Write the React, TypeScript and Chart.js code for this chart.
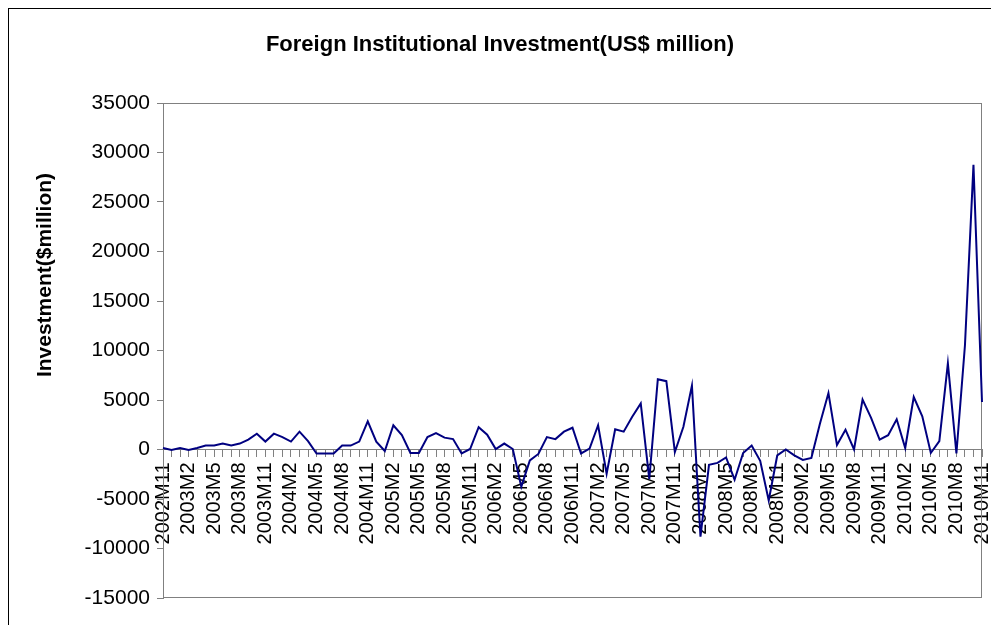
import React, { useEffect, useRef } from 'react';
import { Chart, registerables } from 'chart.js';

Chart.register(...registerables);

const categories = [
  '2002M11', '2002M12',
  '2003M1', '2003M2', '2003M3', '2003M4', '2003M5', '2003M6', '2003M7', '2003M8', '2003M9', '2003M10', '2003M11', '2003M12',
  '2004M1', '2004M2', '2004M3', '2004M4', '2004M5', '2004M6', '2004M7', '2004M8', '2004M9', '2004M10', '2004M11', '2004M12',
  '2005M1', '2005M2', '2005M3', '2005M4', '2005M5', '2005M6', '2005M7', '2005M8', '2005M9', '2005M10', '2005M11', '2005M12',
  '2006M1', '2006M2', '2006M3', '2006M4', '2006M5', '2006M6', '2006M7', '2006M8', '2006M9', '2006M10', '2006M11', '2006M12',
  '2007M1', '2007M2', '2007M3', '2007M4', '2007M5', '2007M6', '2007M7', '2007M8', '2007M9', '2007M10', '2007M11', '2007M12',
  '2008M1', '2008M2', '2008M3', '2008M4', '2008M5', '2008M6', '2008M7', '2008M8', '2008M9', '2008M10', '2008M11', '2008M12',
  '2009M1', '2009M2', '2009M3', '2009M4', '2009M5', '2009M6', '2009M7', '2009M8', '2009M9', '2009M10', '2009M11', '2009M12',
  '2010M1', '2010M2', '2010M3', '2010M4', '2010M5', '2010M6', '2010M7', '2010M8', '2010M9', '2010M10', '2010M11',
];

const values2002 = [150, -50];
const values2003 = [150, -50, 150, 400, 400, 600, 400, 600, 1000, 1600, 800, 1600];
const values2004 = [1250, 800, 1800, 850, -400, -400, -400, 400, 400, 800, 2850, 800];
const values2005 = [-150, 2450, 1450, -350, -350, 1250, 1650, 1200, 1050, -400, 50, 2250];
const values2006 = [1500, 50, 600, 50, -3750, -1100, -450, 1250, 1050, 1800, 2200, -400];
const values2007 = [100, 2450, -2450, 2050, 1800, 3300, 4650, -3000, 7100, 6900, -250, 2300];
const values2008 = [6450, -8800, -1550, -1350, -800, -3050, -350, 400, -1150, -5150, -600, 0];
const values2009 = [-600, -1050, -850, 2600, 5700, 450, 2000, 0, 5050, 3200, 1000, 1450];
const values2010 = [3050, 150, 5300, 3350, -350, 850, 8700, -400, 10500, 28750, 4800];

const fiiValues = [
  ...values2002, ...values2003, ...values2004, ...values2005, ...values2006,
  ...values2007, ...values2008, ...values2009, ...values2010,
];

const TITLE = 'Foreign Institutional Investment(US$ million)';
const Y_TITLE = 'Investment($million)';
const Y_MIN = -15000;
const Y_MAX = 35000;
const Y_STEP = 5000;
const LABEL_EVERY = 3;

const FONT = '"Liberation Sans", Arial, Helvetica, sans-serif';

export default function App() {
  const ref = useRef<HTMLCanvasElement>(null);

  useEffect(() => {
    const canvas = ref.current;
    if (!canvas) return;

    const decor = {
      id: 'decor',
      beforeDatasetsDraw(chart: any) {
        const { ctx, chartArea: a } = chart;
        ctx.save();
        ctx.strokeStyle = '#808080';
        ctx.lineWidth = 1;
        ctx.strokeRect(Math.round(a.left) + 0.5, Math.round(a.top) + 0.5,
          Math.round(a.right - a.left) - 1, Math.round(a.bottom - a.top) - 1);
        ctx.restore();
      },
      afterDraw(chart: any) {
        const { ctx } = chart;
        ctx.save();
        ctx.fillStyle = '#000';
        ctx.font = `bold 22px ${FONT}`;
        ctx.textAlign = 'center';
        ctx.textBaseline = 'middle';
        ctx.fillText(TITLE, 491, 36);
        ctx.translate(36, 266);
        ctx.rotate(-Math.PI / 2);
        ctx.font = `bold 21px ${FONT}`;
        ctx.fillText(Y_TITLE, 0, 0);
        ctx.restore();
      },
    };

    const chart = new Chart(canvas, {
      type: 'line',
      data: {
        labels: categories,
        datasets: [
          {
            data: fiiValues,
            borderColor: '#000080',
            backgroundColor: '#000080',
            borderWidth: 2,
            pointRadius: 0,
            tension: 0,
            fill: false,
          },
        ],
      },
      options: {
        animation: false,
        responsive: false,
        maintainAspectRatio: false,
        devicePixelRatio: 1,
        layout: { padding: { left: 0, top: 94, right: 9, bottom: 27 } },
        plugins: {
          legend: { display: false },
          title: { display: false },
          tooltip: { enabled: false },
        },
        scales: {
          x: {
            type: 'category',
            position: { y: 0 } as any,
            offset: false,
            grid: { drawOnChartArea: false, drawTicks: true, tickLength: 7, color: '#808080' },
            border: { display: true, color: '#808080', width: 1 },
            ticks: {
              autoSkip: false,
              minRotation: 90,
              maxRotation: 90,
              padding: 6,
              color: '#000',
              font: { family: FONT, size: 20 },
              callback: (_v: any, i: number) => (i % LABEL_EVERY === 0 ? categories[i] : ''),
            },
            afterFit: (s: any) => {
              s.paddingLeft = 0;
              s.paddingRight = 0;
            },
          },
          y: {
            min: Y_MIN,
            max: Y_MAX,
            grid: { drawOnChartArea: false, drawTicks: true, tickLength: 6, color: '#808080' },
            border: { display: true, color: '#808080', width: 1 },
            ticks: {
              stepSize: Y_STEP,
              padding: 7,
              color: '#000',
              font: { family: FONT, size: 21 },
              callback: (v: any) => String(v),
            },
            afterFit: (s: any) => {
              s.width = 154;
            },
          },
        },
      },
      plugins: [decor],
    });

    return () => chart.destroy();
  }, []);

  return (
    <div
      style={{
        position: 'absolute',
        left: 8,
        top: 8,
        width: 983,
        height: 617,
        boxSizing: 'border-box',
        borderLeft: '1px solid #000',
        borderTop: '1px solid #000',
        background: '#fff',
      }}
    >
      <canvas ref={ref} width={982} height={616} style={{ display: 'block', width: 982, height: 616 }} />
    </div>
  );
}
